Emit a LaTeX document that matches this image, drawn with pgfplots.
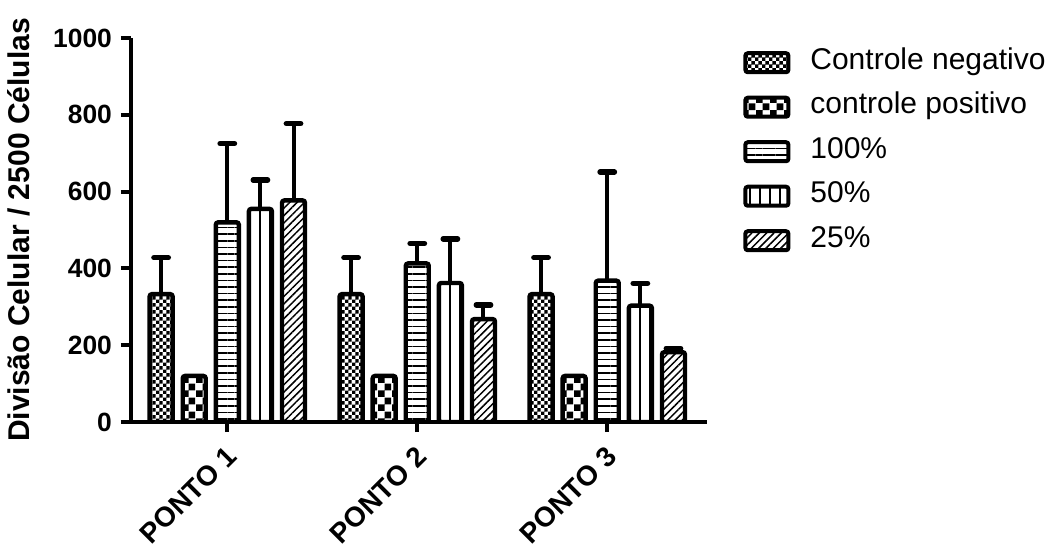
\documentclass[border=0pt]{standalone}
\usepackage{fontspec}
\setmainfont{Liberation Sans}
\usepackage{pgfplots}
\pgfplotsset{compat=1.18}
\usetikzlibrary{patterns,patterns.meta}
\pgfdeclarepatternformonly{smallcheck}{\pgfpointorigin}{\pgfqpoint{3.4pt}{3.4pt}}{\pgfqpoint{3.4pt}{3.4pt}}{%
  \pgfpathrectangle{\pgfpointorigin}{\pgfqpoint{1.75pt}{1.75pt}}%
  \pgfpathrectangle{\pgfqpoint{1.7pt}{1.7pt}}{\pgfqpoint{1.75pt}{1.75pt}}%
  \pgfusepath{fill}}
\pgfdeclarepatternformonly{bigcheck}{\pgfpointorigin}{\pgfqpoint{7pt}{7pt}}{\pgfqpoint{7pt}{7pt}}{%
  \pgfpathrectangle{\pgfpointorigin}{\pgfqpoint{3.55pt}{3.55pt}}%
  \pgfpathrectangle{\pgfqpoint{3.5pt}{3.5pt}}{\pgfqpoint{3.55pt}{3.55pt}}%
  \pgfusepath{fill}}

\pgfplotstableread{
x y e
0 333 95
1 333 95
2 333 95
}\negativo
\pgfplotstableread{
x y e
0 120 0
1 120 0
2 120 0
}\positivo
\pgfplotstableread{
x y e
0 520 205
1 413 52
2 368 283
}\cem
\pgfplotstableread{
x y e
0 555 75
1 362 115
2 303 58
}\cinquenta
\pgfplotstableread{
x y e
0 577 200
1 268 37
2 182 10
}\vinte

\begin{document}
\begin{tikzpicture}
\useasboundingbox (-65.5pt,-64.5pt) rectangle (464pt,211pt);
\begin{axis}[
  scale only axis,
  width=288pt, height=192pt,
  ybar=5.05pt, bar width=11.5pt,
  xmin=-0.507, xmax=2.525, ymin=0, ymax=1000,
  axis x line=bottom, axis y line=left,
  axis line style={line width=2pt, -},
  xtick={0,1,2}, xticklabels={PONTO 1, PONTO 2, PONTO 3},
  ytick={0,200,400,600,800,1000},
  tick style={line width=2pt, black},
  major tick length=5pt, tick align=outside,
  /pgf/number format/assume math mode=true,
  /pgf/number format/1000 sep={},
  yticklabel style={font=\bfseries\fontsize{13.2}{13.2}\selectfont, xshift=-1pt},
  xticklabel style={font=\bfseries\fontsize{14}{14}\selectfont, rotate=45, anchor=north east, xshift=-2pt},
  ylabel={Divisão Celular / 2500 Células},
  ylabel style={font=\bfseries\fontsize{15}{15}\selectfont, at={(axis description cs:-0.194,0.5)}, anchor=center},
  every axis plot/.append style={draw=black, line width=2.2pt, rounded corners=1.2pt},
  error bars/error bar style={line width=2pt, sharp corners},
  error bars/error mark options={rotate=90, line width=2.7pt, mark size=3.6pt, line cap=round, sharp corners},
  legend image code/.code={\draw[#1, line width=2pt, rounded corners=1.2pt] (0pt,-5pt) rectangle (21.5pt,4.5pt);},
  legend style={at={(1.0625,0.977)}, anchor=north west, draw=none, fill=none, inner sep=0pt,
    font=\fontsize{15}{18}\selectfont, row sep=7.25pt, column sep=10pt,
    nodes={inner sep=0pt, anchor=west, text height=11pt, text depth=4pt}},
  legend cell align=left,
]
\addplot[pattern=smallcheck, error bars/.cd, y dir=plus, y explicit] table[x=x, y=y, y error=e] {\negativo};
\addplot[pattern=bigcheck] table[x=x, y=y] {\positivo};
\addplot[pattern={Lines[angle=0, distance=3.3pt, line width=0.8pt]}, error bars/.cd, y dir=plus, y explicit] table[x=x, y=y, y error=e] {\cem};
\addplot[pattern={Lines[angle=90, distance=5pt, line width=0.9pt]}, error bars/.cd, y dir=plus, y explicit] table[x=x, y=y, y error=e] {\cinquenta};
\addplot[pattern={Lines[angle=45, distance=2.6pt, line width=0.75pt]}, error bars/.cd, y dir=plus, y explicit] table[x=x, y=y, y error=e] {\vinte};
\legend{Controle negativo, controle positivo, 100\%, 50\%, 25\%}
\end{axis}
\end{tikzpicture}
\end{document}
